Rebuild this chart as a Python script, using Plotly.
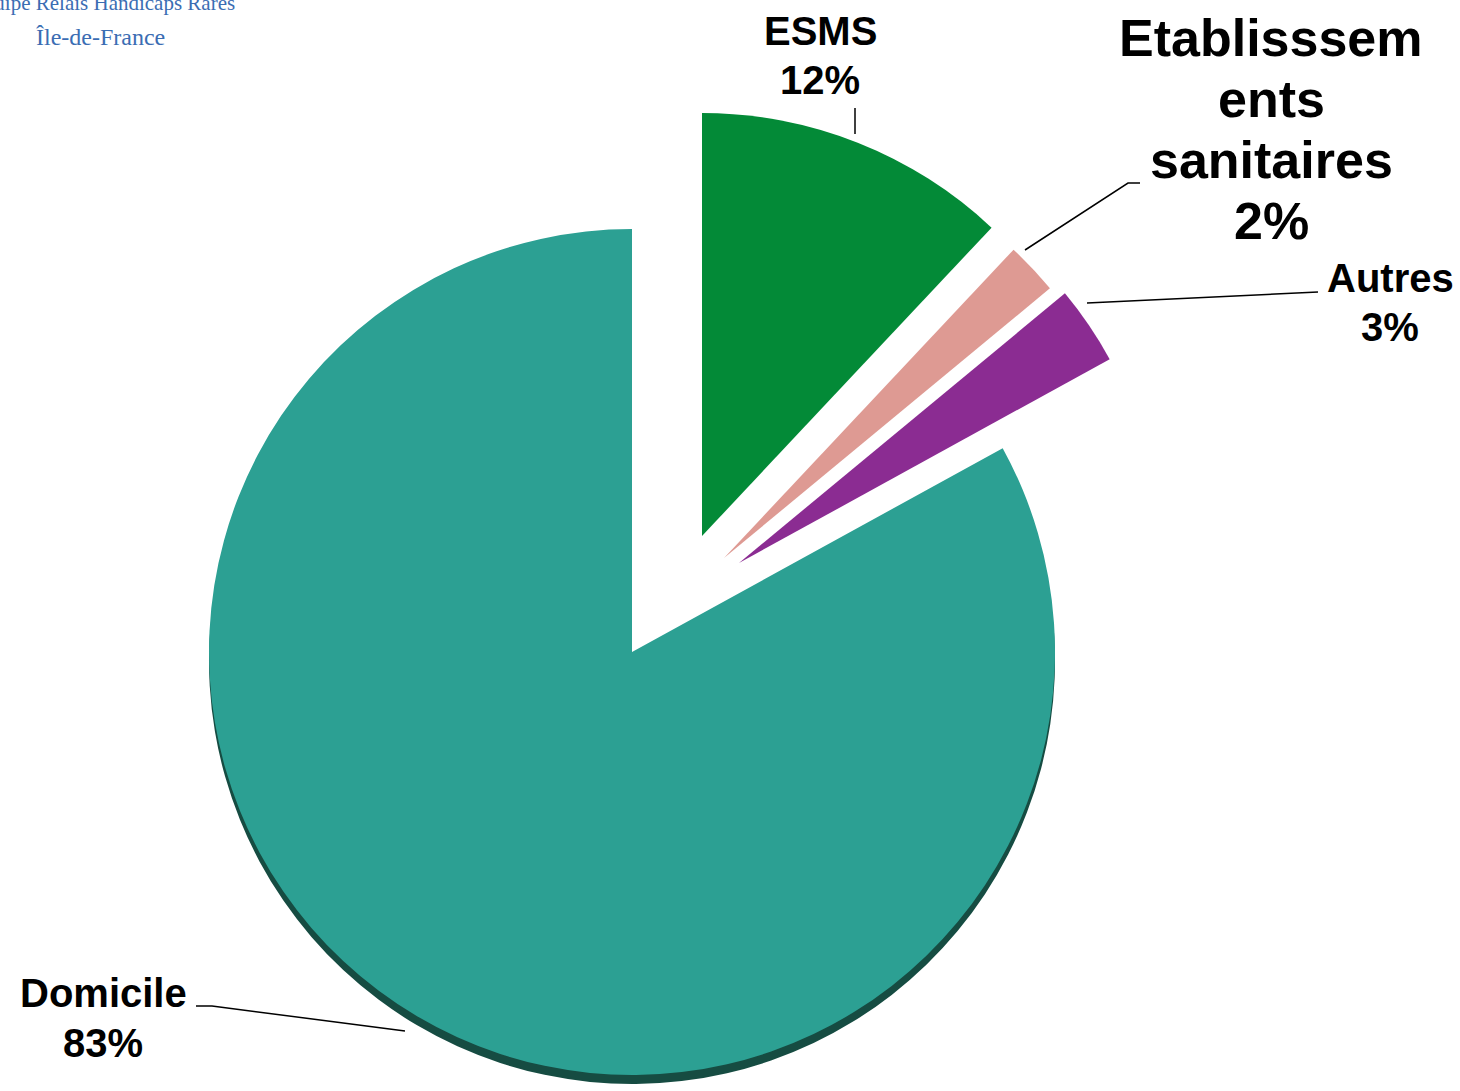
import plotly.graph_objects as go

# ---- data ----
labels = ["ESMS", "Etablisssements sanitaires", "Autres", "Domicile"]
values = [12, 2, 3, 83]
pct_text = ["12%", "2%", "3%", "83%"]
colors = ["#038A37", "#DE9A93", "#8B2C92", "#2CA093"]
shadow_color = "#164C42"

W, H = 1460, 1091
CX, CY, R = 632, 652, 423
# offsets (px) of exploded slices from the main centre
offsets = {0: (70, -116), 1: (92, -94), 2: (107, -89)}

def dom(cx, cy, r):
    return dict(x=[(cx - r) / W, (cx + r) / W],
                y=[1 - (cy + r) / H, 1 - (cy - r) / H])

def pie(visible_idx, cx, cy, color_override=None):
    cols = []
    for i in range(len(values)):
        if i == visible_idx:
            cols.append(color_override or colors[i])
        else:
            cols.append("rgba(0,0,0,0)")
    return go.Pie(labels=labels, values=values, sort=False, direction="clockwise",
                  rotation=0, marker=dict(colors=cols, line=dict(width=0)),
                  textinfo="none", hoverinfo="label+percent", showlegend=False,
                  domain=dom(cx, cy, R))

fig = go.Figure()
# 3D-ish rim of the big slice
fig.add_trace(pie(3, CX, CY + 9, shadow_color))
fig.add_trace(pie(3, CX, CY))
for i, (dx, dy) in offsets.items():
    fig.add_trace(pie(i, CX + dx, CY + dy))

font = dict(family="Liberation Sans, Arial, sans-serif", color="black")
annotations = []

def label(text, x, y, size):
    annotations.append(dict(text=f"<b>{text}</b>", x=x / W, y=1 - y / H, xref="paper", yref="paper",
                            xanchor="center", yanchor="middle", showarrow=False,
                            font=dict(size=size, **font), align="center"))

label(labels[0], 820, 31, 40)
label(pct_text[0], 820, 80, 40)
for txt, yy in zip(["Etablisssem", "ents", "sanitaires", pct_text[1]], [38, 99, 160, 221]):
    label(txt, 1271, yy, 52)
label(labels[2], 1390, 278, 40)
label(pct_text[2], 1390, 327, 40)
label(labels[3], 103, 993, 40)
label(pct_text[3], 103, 1043, 40)

# logo text
logo_font = dict(family="Liberation Serif, Times New Roman, serif", color="#3B6DB3", size=24)
annotations.append(dict(text="Équipe Relais Handicaps Rares", x=237 / W, y=1 - 3 / H,
                        xref="paper", yref="paper", xanchor="right", yanchor="middle",
                        showarrow=False, font=dict(logo_font, size=21)))
annotations.append(dict(text="Île-de-France", x=100 / W, y=1 - 37 / H,
                        xref="paper", yref="paper", xanchor="center", yanchor="middle",
                        showarrow=False, font=logo_font))

def px(x, y):
    return f"{x / W} {1 - y / H}"

lines = [
    [(855, 108), (855, 134)],
    [(1140, 183), (1128, 183), (1025, 250)],
    [(1318, 292), (1087, 303)],
    [(196, 1006), (212, 1006), (405, 1031)],
]
shapes = []
for pts in lines:
    path = "M " + " L ".join(px(x, y) for x, y in pts)
    shapes.append(dict(type="path", path=path, xref="paper", yref="paper",
                       line=dict(color="black", width=1.5)))

fig.update_layout(width=W, height=H, margin=dict(l=0, r=0, t=0, b=0),
                  paper_bgcolor="white", plot_bgcolor="white",
                  annotations=annotations, shapes=shapes)
fig.write_html("out.html", config={"displayModeBar": False},
               post_script="document.body.style.margin='0';document.body.style.overflow='hidden';")
